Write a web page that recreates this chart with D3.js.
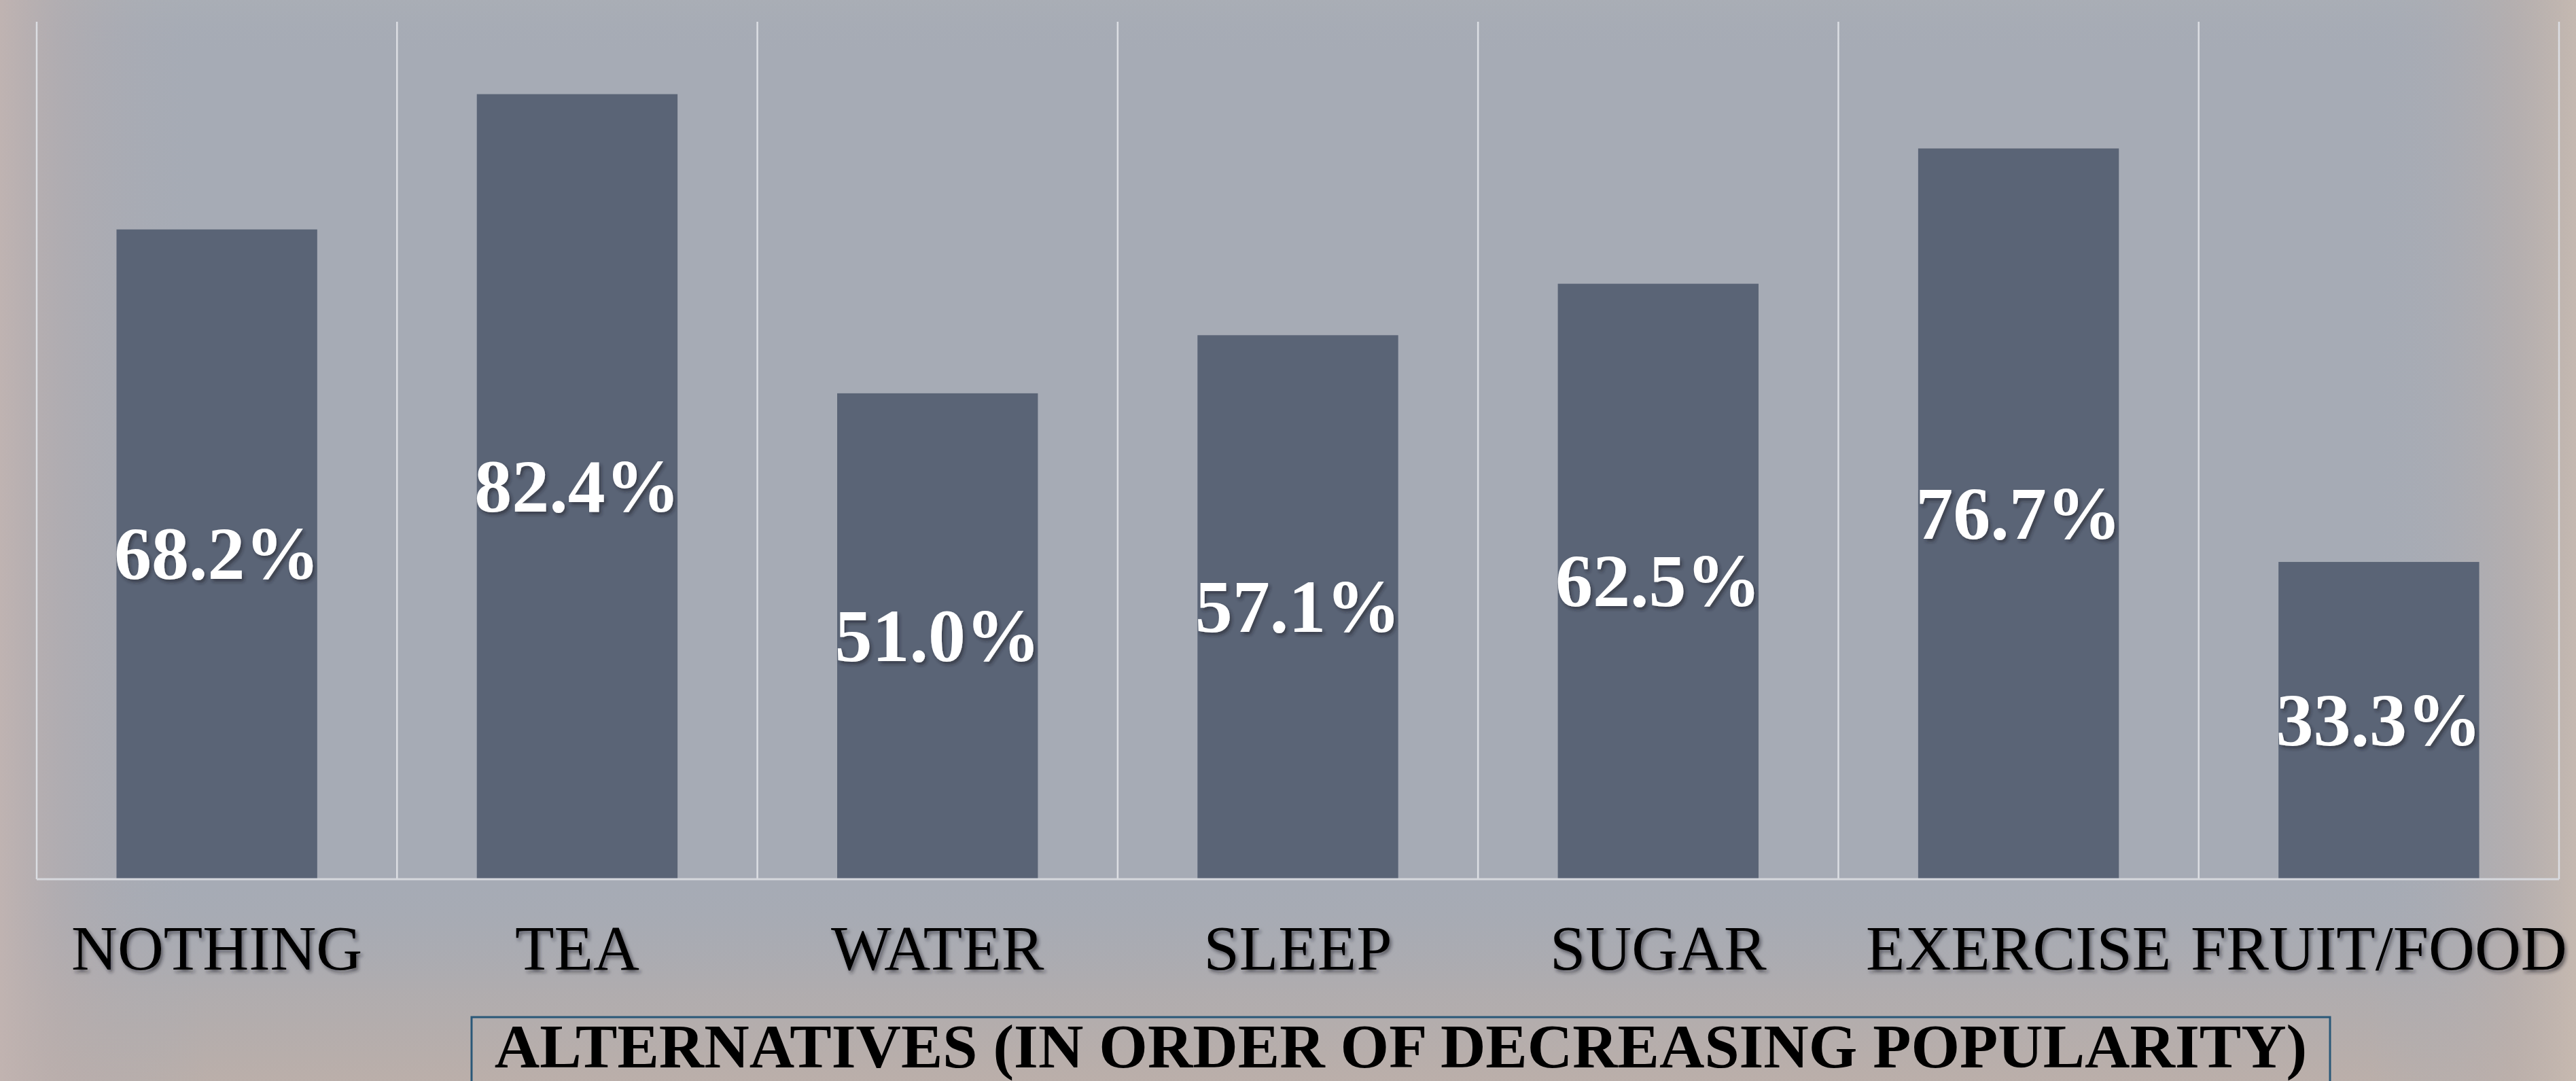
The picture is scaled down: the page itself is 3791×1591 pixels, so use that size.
<!DOCTYPE html>
<html>
<head>
<meta charset="utf-8">
<script src="https://cdn.jsdelivr.net/npm/d3@7"></script>
<style>
  html, body { margin: 0; padding: 0; overflow: hidden; background: #a6abb5; }
  svg { display: block; }
</style>
</head>
<body>
<div id="chart"></div>
<script>
// data
var categories = ["NOTHING", "TEA", "WATER", "SLEEP", "SUGAR", "EXERCISE", "FRUIT/FOOD"];
var values = [68.2, 82.4, 51.0, 57.1, 62.5, 76.7, 33.3];
var yDomain = [0, 90];
var axisTitle = "ALTERNATIVES (IN ORDER OF DECREASING POPULARITY)";

var width = 3791;
var height = 1591;
var plot = { left: 54, right: 3766, top: 32, bottom: 1294 };

var svg = d3.select("#chart").append("svg")
    .attr("width", width)
    .attr("height", height);

var defs = svg.append("defs");

// background: grey water photo with warmer edges
var hGrad = defs.append("linearGradient").attr("id", "hEdge")
    .attr("x1", "0").attr("x2", "1").attr("y1", "0").attr("y2", "0");
hGrad.append("stop").attr("offset", "0").attr("stop-color", "#c2b4b1").attr("stop-opacity", 0.9);
hGrad.append("stop").attr("offset", "0.025").attr("stop-color", "#b8adad").attr("stop-opacity", 0.5);
hGrad.append("stop").attr("offset", "0.08").attr("stop-color", "#a6abb5").attr("stop-opacity", 0);
hGrad.append("stop").attr("offset", "0.92").attr("stop-color", "#a6abb5").attr("stop-opacity", 0);
hGrad.append("stop").attr("offset", "0.975").attr("stop-color", "#bcb0ab").attr("stop-opacity", 0.6);
hGrad.append("stop").attr("offset", "1").attr("stop-color", "#c8bab0").attr("stop-opacity", 0.9);

var vGrad = defs.append("linearGradient").attr("id", "vEdge")
    .attr("x1", "0").attr("x2", "0").attr("y1", "0").attr("y2", "1");
vGrad.append("stop").attr("offset", "0").attr("stop-color", "#aeb2b6").attr("stop-opacity", 0.4);
vGrad.append("stop").attr("offset", "0.05").attr("stop-color", "#a6abb5").attr("stop-opacity", 0);
vGrad.append("stop").attr("offset", "0.82").attr("stop-color", "#a9aab0").attr("stop-opacity", 0);
vGrad.append("stop").attr("offset", "0.92").attr("stop-color", "#b5adab").attr("stop-opacity", 0.7);
vGrad.append("stop").attr("offset", "1").attr("stop-color", "#bcafa9").attr("stop-opacity", 0.95);

var shadow = defs.append("filter").attr("id", "shadow")
    .attr("x", "-10%").attr("y", "-20%").attr("width", "130%").attr("height", "150%");
shadow.append("feDropShadow")
    .attr("dx", 3).attr("dy", 4).attr("stdDeviation", 2.5)
    .attr("flood-color", "#1e2128").attr("flood-opacity", 0.55);

svg.append("rect").attr("width", width).attr("height", height).attr("fill", "#a6abb5");
svg.append("rect").attr("width", width).attr("height", height).attr("fill", "url(#vEdge)");
svg.append("rect").attr("width", width).attr("height", height).attr("fill", "url(#hEdge)");

// scales
var x = d3.scaleBand()
    .domain(categories)
    .range([plot.left, plot.right])
    .paddingInner(0.443)
    .paddingOuter(0.2215);

var y = d3.scaleLinear()
    .domain(yDomain)
    .range([plot.bottom, plot.top]);

var step = x.step();
var bandStart = function (c) { return x(c) - (step - x.bandwidth()) / 2; };

// vertical separators between categories
var edges = categories.map(bandStart).concat([plot.right]);
svg.append("g").selectAll("line")
    .data(edges)
    .enter().append("line")
    .attr("x1", function (d) { return d; })
    .attr("x2", function (d) { return d; })
    .attr("y1", y(yDomain[1]))
    .attr("y2", y(0))
    .attr("stroke", "#dcdee3")
    .attr("stroke-width", 2.5);

// bars
svg.append("g").selectAll("rect")
    .data(values)
    .enter().append("rect")
    .attr("x", function (d, i) { return x(categories[i]); })
    .attr("y", function (d) { return y(d); })
    .attr("width", x.bandwidth())
    .attr("height", function (d) { return y(0) - y(d); })
    .attr("fill", "#5a6476");

// baseline
svg.append("line")
    .attr("x1", plot.left).attr("x2", plot.right)
    .attr("y1", y(0)).attr("y2", y(0))
    .attr("stroke", "#d6d8dd")
    .attr("stroke-width", 3);

// value labels in the middle of each bar
var valueSize = 110;
svg.append("g").selectAll("text")
    .data(values)
    .enter().append("text")
    .attr("x", function (d, i) { return x(categories[i]) + x.bandwidth() / 2; })
    .attr("y", function (d) { return (y(d) + y(0)) / 2 + valueSize * 0.33; })
    .attr("text-anchor", "middle")
    .attr("font-family", "'Liberation Serif', 'DejaVu Serif', serif")
    .attr("font-weight", "bold")
    .attr("font-size", valueSize)
    .attr("fill", "#ffffff")
    .attr("filter", "url(#shadow)")
    .text(function (d) { return d.toFixed(1) + "%"; });

// category axis
var xAxis = svg.append("g")
    .attr("transform", "translate(0," + y(0) + ")")
    .call(d3.axisBottom(x).tickSize(0).tickPadding(133));
xAxis.select(".domain").remove();
xAxis.selectAll("text")
    .attr("font-family", "'Liberation Serif', serif")
    .attr("font-size", 94)
    .attr("fill", "#000000")
    .attr("dy", 0)
    .attr("filter", "url(#shadow)");

// axis title in a box
var titleBox = { x: 694, y: 1497, w: 2735, h: 140 };
svg.append("rect")
    .attr("x", titleBox.x).attr("y", titleBox.y)
    .attr("width", titleBox.w).attr("height", titleBox.h)
    .attr("fill", "none")
    .attr("stroke", "#2a5878")
    .attr("stroke-width", 3);

svg.append("text")
    .attr("x", titleBox.x + titleBox.w / 2)
    .attr("y", 1571)
    .attr("text-anchor", "middle")
    .attr("font-family", "'Liberation Serif', serif")
    .attr("font-weight", "bold")
    .attr("font-size", 92)
    .attr("fill", "#000000")
    .text(axisTitle);
</script>
</body>
</html>
